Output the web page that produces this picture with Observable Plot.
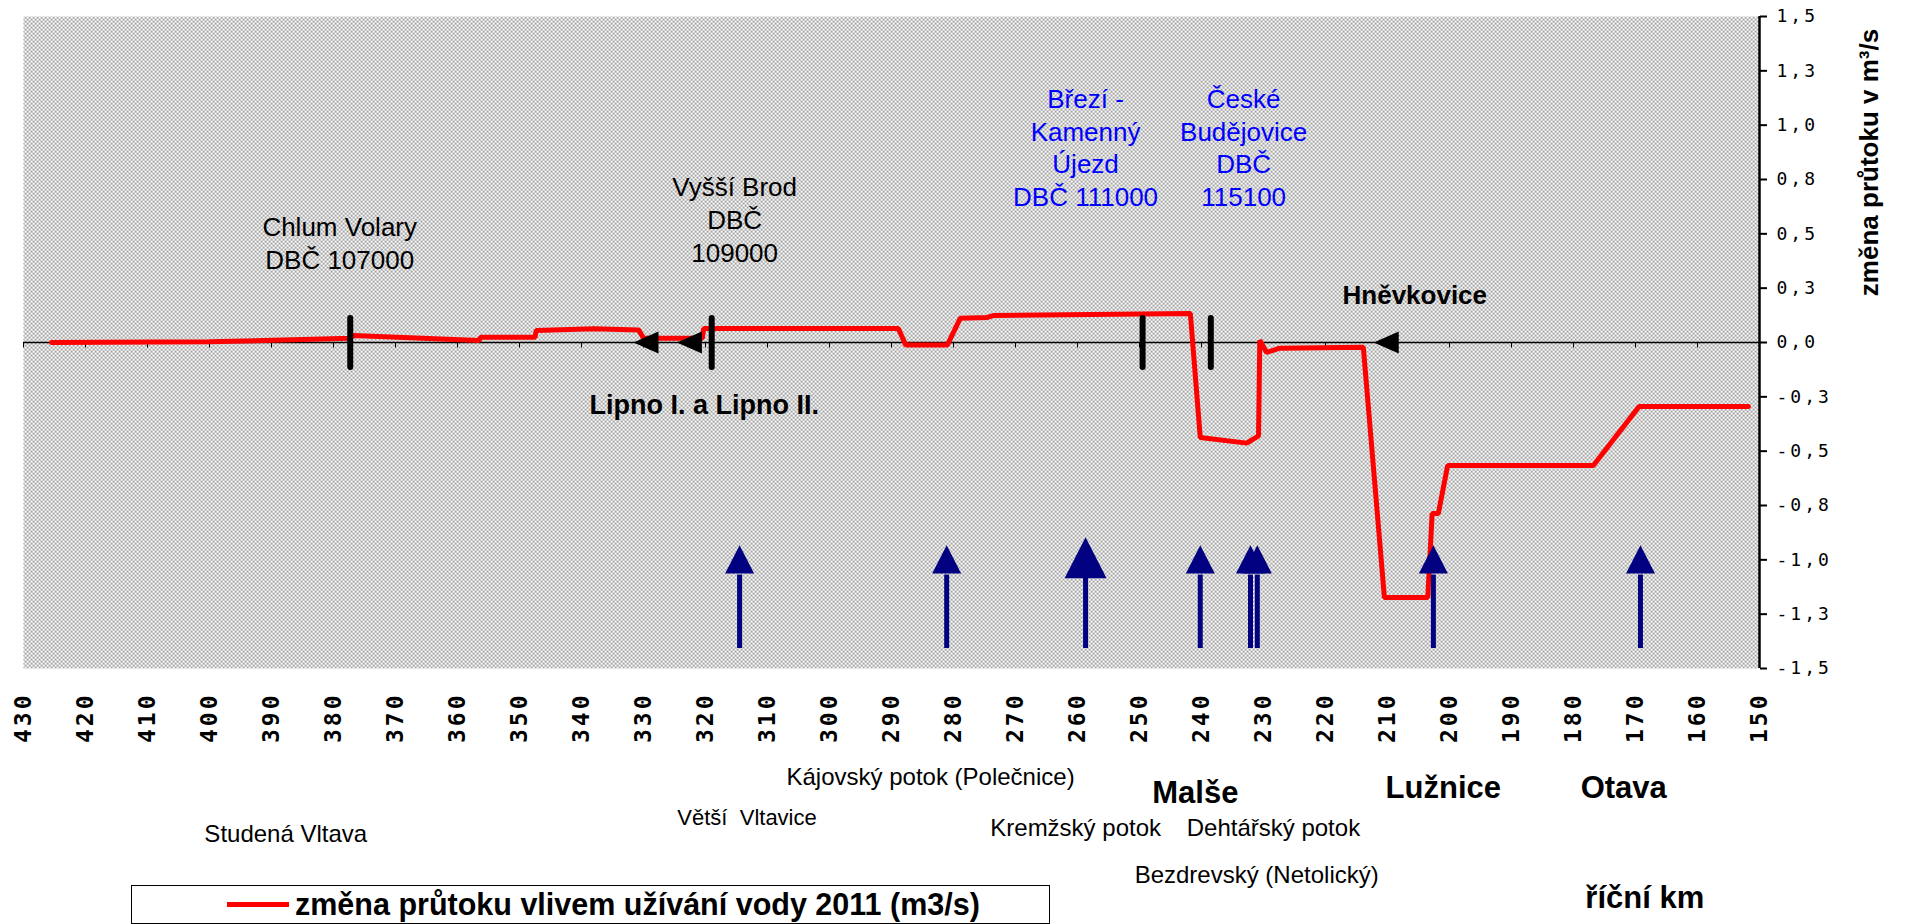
<!DOCTYPE html>
<html>
<head>
<meta charset="utf-8">
<script src="https://cdn.jsdelivr.net/npm/d3@7"></script>
<script src="https://cdn.jsdelivr.net/npm/@observablehq/plot@0.6"></script>
<style>
html, body { margin: 0; padding: 0; background: #fff; }
#wrap { position: relative; width: 1919px; height: 924px; overflow: hidden; font-family: "Liberation Sans", Arial, sans-serif; }
#legend { position: absolute; left: 131px; top: 885px; width: 917px; height: 37px; border: 1px solid #000; background: #fff; }
#legend .swatch { position: absolute; left: 95px; top: 16px; width: 62px; height: 5px; background: #ff0000; }
#legend .txt { position: absolute; left: 163px; top: 0; line-height: 37px; font-weight: bold; font-size: 30.5px; white-space: nowrap; color: #000; }
</style>
</head>
<body>
<div id="wrap"></div>
<script>
// ---- data ----
const riverKm    = [425.5, 400, 377.3, 376.8, 356.5, 356.3, 347.5, 347.3, 338.0, 330.8, 330.0, 320.5, 320.3, 288.9, 287.7, 281.0, 278.9, 274.6, 273.6, 241.8, 240.2, 232.7, 230.8, 230.6, 229.5, 227.4, 213.9, 210.5, 203.5, 202.8, 201.8, 200.3, 176.8, 169.4, 151.8];
const flowChange = [0, 0.003, 0.02, 0.032, 0.009, 0.024, 0.024, 0.055, 0.063, 0.058, 0.02, 0.02, 0.064, 0.064, -0.012, -0.012, 0.112, 0.115, 0.124, 0.134, -0.437, -0.463, -0.43, 0.01, -0.046, -0.026, -0.022, -1.173, -1.173, -0.787, -0.787, -0.566, -0.566, -0.294, -0.294];

const profileKm   = [377.3, 319.0, 249.5, 238.5];       // vertical black bars (DBČ profiles)
const reservoirKm = [329.6, 322.6, 210.2];              // black left-pointing triangles
const tributaryKm = [314.5, 281.1, 240.2, 232.1, 231.0, 202.6, 169.2]; // blue arrows
const bigTributaryKm = [258.7];

const xTicks = [430, 420, 410, 400, 390, 380, 370, 360, 350, 340, 330, 320, 310, 300, 290, 280, 270, 260, 250, 240, 230, 220, 210, 200, 190, 180, 170, 160, 150];
const yTickValues = [-1.5, -1.25, -1, -0.75, -0.5, -0.25, 0, 0.25, 0.5, 0.75, 1, 1.25, 1.5];
const yTickLabels = ["-1,5", "-1,3", "-1,0", "-0,8", "-0,5", "-0,3", "0,0", "0,3", "0,5", "0,8", "1,0", "1,3", "1,5"];

const stationLabels = ["Chlum Volary\nDBČ 107000", "Vyšší Brod\nDBČ\n109000"];
const stationKm     = [379.0, 315.3];
const stationQ      = [0.462, 0.571];
const blueLabels = ["Březí -\nKamenný\nÚjezd\nDBČ 111000", "České\nBudějovice\nDBČ\n115100"];
const blueKm     = [258.7, 233.2];
const blueQ      = [0.902, 0.902];
const boldLabels = ["Hněvkovice", "Lipno I. a Lipno II."];
const boldKm     = [205.6, 320.2];
const boldQ      = [0.214, -0.29];
const boldSize   = [26, 27];

const riverNames = ["Studená Vltava", "Větší  Vltavice", "Kájovský potok (Polečnice)", "Kremžský potok", "Dehtářský potok", "Bezdrevský (Netolický)"];
const riverNameKm = [387.7, 313.3, 283.7, 260.3, 228.4, 231.1];
const riverNameSize = [24, 22, 24, 24, 24, 24];
const riverNameRow = [-2.264, -2.186, -2.0, -2.236, -2.236, -2.453];
const mainRivers = ["Malše", "Lužnice", "Otava"];
const mainRiverKm = [241.0, 201.0, 171.9];
const mainRiverRow = [-2.075, -2.052, -2.052];

const xTitle = "říční km";
const yTitle = "změna průtoku v m³/s";
const legendLabel = "změna průtoku vlivem užívání vody 2011 (m3/s)";

// ---- build ----
const series = riverKm.map((k, i) => ({km: k, q: flowChange[i]}));
const stations = stationLabels.map((t, i) => ({t, km: stationKm[i], q: stationQ[i]}));
const blues = blueLabels.map((t, i) => ({t, km: blueKm[i], q: blueQ[i]}));
const bolds = boldLabels.map((t, i) => ({t, km: boldKm[i], q: boldQ[i], s: boldSize[i]}));
const rivers = riverNames.map((t, i) => ({t, km: riverNameKm[i], q: riverNameRow[i], s: riverNameSize[i]}));
const mains = mainRivers.map((t, i) => ({t, km: mainRiverKm[i], q: mainRiverRow[i]}));
const yLabelMap = new Map(yTickValues.map((v, i) => [v, yTickLabels[i]]));

const rOf = (size) => Math.sqrt(size / Math.PI);
const tickDown = {draw(ctx, size) { const r = rOf(size); ctx.moveTo(0, 0); ctx.lineTo(0, r); }};
const vBar = {draw(ctx, size) { const r = rOf(size); ctx.moveTo(0, -r); ctx.lineTo(0, r); }};
const leftTri = {draw(ctx, size) { const r = rOf(size); ctx.moveTo(-r, 0); ctx.lineTo(r, -0.88 * r); ctx.lineTo(r, 0.88 * r); ctx.closePath(); }};
const upHead = {draw(ctx, size) { const r = rOf(size); ctx.moveTo(-r, 0); ctx.lineTo(r, 0); ctx.lineTo(0, -1.95 * r); ctx.closePath(); }};

const navy = "#000080";
const font = "Liberation Sans, Arial, sans-serif";

const chart = Plot.plot({
  width: 1919,
  height: 924,
  marginLeft: 23,
  marginRight: 160,
  marginTop: 16,
  marginBottom: 256,
  x: {domain: [430, 150]},
  y: {domain: [-1.5, 1.5]},
  style: {fontFamily: font, background: "white", color: "black", overflow: "visible"},
  marks: [
    Plot.frame({fill: "url(#dots)", stroke: "none"}),
    Plot.ruleY([0], {stroke: "black", strokeWidth: 1.5}),
    Plot.dot(xTicks, {x: d => d, y: () => 0, symbol: tickDown, r: 5, stroke: "black", strokeWidth: 1, fill: "none"}),
    Plot.ruleX([150], {stroke: "black", strokeWidth: 2.5}),
    Plot.axisX({anchor: "bottom", ticks: xTicks, tickSize: 0, tickPadding: 24, tickRotate: -90, tickFormat: d => String(d), fontSize: 23, fontWeight: "bold", fontFamily: "DejaVu Sans Mono", label: null}),
    Plot.axisY({anchor: "right", ticks: yTickValues, tickFormat: d => yLabelMap.get(d), tickSize: 7, tickPadding: 10, strokeWidth: 2, fontSize: 18, fontFamily: "DejaVu Sans Mono", label: null}),
    Plot.line(series, {x: "km", y: "q", stroke: "#ff0000", strokeWidth: 5, strokeLinejoin: "miter"}),
    Plot.dot(profileKm, {x: d => d, y: () => 0, symbol: vBar, r: 24.5, stroke: "black", strokeWidth: 6, strokeLinecap: "round", fill: "none"}),
    Plot.dot(reservoirKm, {x: d => d, y: () => 0, symbol: leftTri, r: 12.5, fill: "black", stroke: "none"}),
    Plot.ruleX(tributaryKm.concat(bigTributaryKm), {x: d => d, y1: -1.408, y2: -1.07, stroke: navy, strokeWidth: 5}),
    Plot.dot(tributaryKm, {x: d => d, y: () => -1.063, symbol: upHead, r: 14.5, fill: navy, stroke: "none"}),
    Plot.dot(bigTributaryKm, {x: d => d, y: () => -1.085, symbol: upHead, r: 21, fill: navy, stroke: "none"}),
    Plot.text(stations, {x: "km", y: "q", text: "t", fontSize: 26, lineHeight: 1.27, fill: "black", fontFamily: font}),
    Plot.text(blues, {x: "km", y: "q", text: "t", fontSize: 26, lineHeight: 1.26, fill: "#0000ff", fontFamily: font}),
    Plot.text(bolds.filter(d => d.s === 26), {x: "km", y: "q", text: "t", fontSize: 26, fontWeight: "bold", fill: "black", fontFamily: font}),
    Plot.text(bolds.filter(d => d.s === 27), {x: "km", y: "q", text: "t", fontSize: 27, fontWeight: "bold", fill: "black", fontFamily: font}),
    Plot.text(rivers.filter(d => d.s === 24), {x: "km", y: "q", text: "t", fontSize: 24, fill: "black", fontFamily: font}),
    Plot.text(rivers.filter(d => d.s === 22), {x: "km", y: "q", text: "t", fontSize: 22, fill: "black", fontFamily: font}),
    Plot.text(mains, {x: "km", y: "q", text: "t", fontSize: 31, fontWeight: "bold", fill: "black", fontFamily: font}),
    Plot.text([xTitle], {x: () => 168.5, y: () => -2.558, text: d => d, fontSize: 31, fontWeight: "bold", fill: "black", fontFamily: font}),
    Plot.text([yTitle], {frameAnchor: "top-right", dx: 110, dy: 146, rotate: -90, textAnchor: "middle", lineAnchor: "middle", text: d => d, fontSize: 26, fontWeight: "bold", fill: "black", fontFamily: font})
  ]
});

const ns = "http://www.w3.org/2000/svg";
const defs = document.createElementNS(ns, "defs");
const pat = document.createElementNS(ns, "pattern");
pat.setAttribute("id", "dots");
pat.setAttribute("patternUnits", "userSpaceOnUse");
pat.setAttribute("width", "4");
pat.setAttribute("height", "4");
[[0, 0, 4, 4, "#ffffff"], [0.5, 0.5, 1.3, 1.3, "#262626"], [2.5, 2.5, 1.3, 1.3, "#262626"]].forEach(([x, y, w, h, f]) => {
  const r = document.createElementNS(ns, "rect");
  r.setAttribute("x", x); r.setAttribute("y", y); r.setAttribute("width", w); r.setAttribute("height", h); r.setAttribute("fill", f);
  pat.appendChild(r);
});
defs.appendChild(pat);
chart.insertBefore(defs, chart.firstChild);

const yLab = chart.querySelector('g[aria-label="y-axis tick label"]');
if (yLab) yLab.setAttribute("letter-spacing", "3");
const xLab = chart.querySelector('g[aria-label="x-axis tick label"]');
if (xLab) xLab.setAttribute("letter-spacing", "3");

const wrap = document.getElementById("wrap");
wrap.appendChild(chart);

const legend = document.createElement("div");
legend.id = "legend";
legend.innerHTML = '<div class="swatch"></div><div class="txt"></div>';
legend.querySelector(".txt").textContent = legendLabel;
wrap.appendChild(legend);
</script>
</body>
</html>
